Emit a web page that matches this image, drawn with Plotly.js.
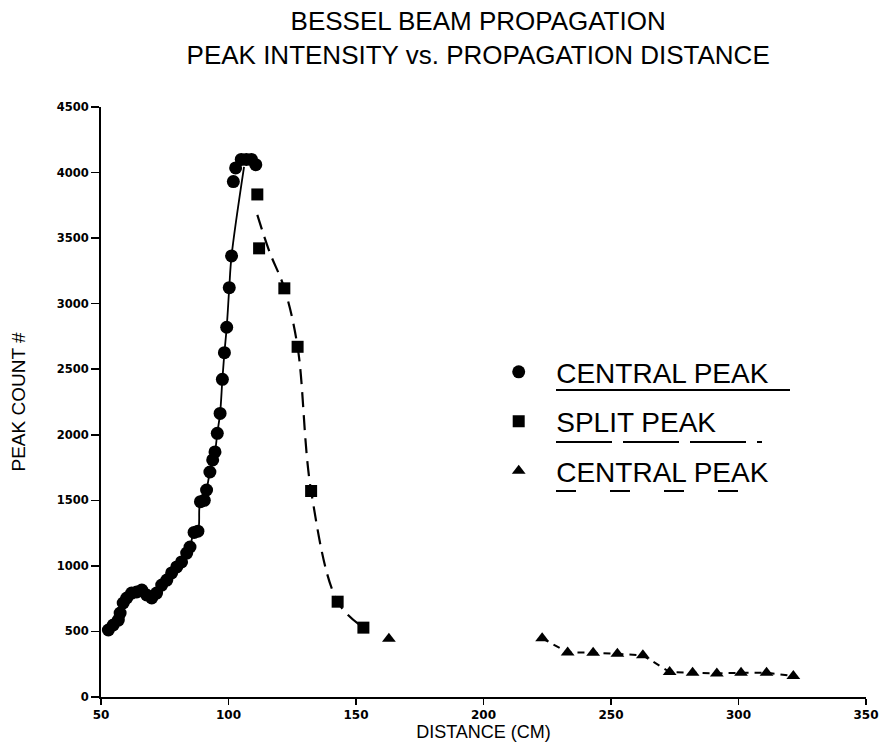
<!DOCTYPE html>
<html>
<head>
<meta charset="utf-8">
<script src="https://cdn.plot.ly/plotly-3.0.1.min.js"></script>
<style>html,body{margin:0;padding:0;background:#fff;}#chart{width:883px;height:746px;}</style>
</head>
<body>
<div id="chart"></div>
<script>
// Central peak (circles)
const centralX = [52.9, 54.8, 56.8, 57.5, 58.7, 60.1, 62.0, 64.0, 66.0, 67.9, 69.9, 71.8, 73.8, 75.8, 77.7, 79.7, 81.6, 83.6, 84.9, 86.5, 88.0, 89.0, 90.5, 91.4, 92.7, 93.8, 94.7, 95.6, 96.7, 97.6, 98.4, 99.3, 100.3, 101.2, 101.9, 102.8, 105.0, 107.0, 109.0, 110.7];
const centralY = [511, 549, 587, 640, 717, 755, 793, 801, 816, 778, 755, 793, 854, 892, 946, 992, 1030, 1098, 1144, 1255, 1265, 1490, 1500, 1579, 1716, 1808, 1869, 2011, 2163, 2423, 2626, 2820, 3122, 3364, 3931, 4035, 4100, 4100, 4100, 4060];
// end point of the solid fitted curve
const centralLineEndX = [106.1];
const centralLineEndY = [4043];

// Split peak (squares)
const splitX = [111.3, 112.0, 121.9, 127.1, 132.4, 142.8, 152.9];
const splitY = [3833, 3422, 3117, 2671, 1571, 727, 529];
// start of the dashed fitted curve
const splitLineStartX = [111.3, 116.0];
const splitLineStartY = [3677, 3400];

// Central peak (triangles), far field
const farX = [162.9, 223.0, 233.0, 243.0, 252.5, 262.5, 273.0, 282.0, 291.5, 301.0, 311.0, 321.5];
const farY = [445, 448, 340, 338, 330, 318, 190, 185, 180, 185, 185, 160];

const xTicks = [50, 100, 150, 200, 250, 300, 350];
const yTicks = [0, 500, 1000, 1500, 2000, 2500, 3000, 3500, 4000, 4500];

const FONT = '"Liberation Sans", Arial, sans-serif';
const TICKFONT = '"DejaVu Sans", sans-serif';

// solid fitted line: circles up to the last point on the curve, then the curve end
const solidIdx = centralY.findIndex(v => v > 3400);
const solidX = centralX.slice(0, solidIdx).concat(centralLineEndX);
const solidY = centralY.slice(0, solidIdx).concat(centralLineEndY);

const dashX = splitLineStartX.concat(splitX.slice(2));
const dashY = splitLineStartY.concat(splitY.slice(2));

const farLineX = farX.slice(1);
const farLineY = farY.slice(1);

const traces = [
  {x: solidX, y: solidY, mode: 'lines', line: {color: '#000', width: 1.8, shape: 'spline'}, showlegend: false, hoverinfo: 'skip'},
  {x: dashX, y: dashY, mode: 'lines', line: {color: '#000', width: 2.2, shape: 'spline', dash: '15px,8px'}, showlegend: false, hoverinfo: 'skip'},
  {x: farLineX, y: farLineY, mode: 'lines', line: {color: '#000', width: 2, dash: '7px,6px'}, showlegend: false, hoverinfo: 'skip'},
  {x: centralX, y: centralY, mode: 'markers', name: 'CENTRAL PEAK', legendgroup: 'a',
   marker: {symbol: 'circle', size: 13, color: '#000'}},
  {x: splitX, y: splitY, mode: 'markers', name: 'SPLIT PEAK', legendgroup: 'b',
   marker: {symbol: 'square', size: 12, color: '#000'}},
  {x: farX, y: farY, mode: 'markers', name: 'CENTRAL PEAK', legendgroup: 'c',
   marker: {symbol: 'triangle-up', size: 12, color: '#000'}}
];

// helpers to convert picture pixels into paper fractions for the legend underlines
const L = 101, R = 866, T = 107, B = 697;
const px = v => (v - L) / (R - L);
const py = v => (B - v) / (B - T);
const underline = (x0, x1, y, dash) => ({
  type: 'line', xref: 'paper', yref: 'paper', x0: px(x0), x1: px(x1), y0: py(y), y1: py(y),
  line: {color: '#000', width: 2, dash: dash}
});

const layout = {
  width: 883, height: 746,
  margin: {l: 101, r: 17, t: 107, b: 49},
  paper_bgcolor: '#fff', plot_bgcolor: '#fff',
  font: {family: FONT, color: '#000'},
  title: {
    text: 'BESSEL BEAM PROPAGATION<br>PEAK INTENSITY vs. PROPAGATION DISTANCE',
    font: {family: FONT, size: 26, color: '#000'},
    x: 0.493, xanchor: 'center', xref: 'paper',
    y: 0.960, yanchor: 'top', yref: 'container'
  },
  xaxis: {
    range: [50, 350], tickvals: xTicks, ticktext: xTicks.map(String),
    showgrid: false, zeroline: false, showline: true, linecolor: '#000', linewidth: 2,
    ticks: 'outside', ticklen: 6, tickwidth: 1.5, tickcolor: '#000',
    tickfont: {family: TICKFONT, size: 12, weight: 'bold', color: '#000'},
    title: {text: 'DISTANCE (CM)', font: {family: FONT, size: 18, color: '#000'}, standoff: 4}
  },
  yaxis: {
    range: [0, 4500], tickvals: yTicks, ticktext: yTicks.map(String),
    showgrid: false, zeroline: false, showline: true, linecolor: '#000', linewidth: 2,
    ticks: 'outside', ticklen: 8, tickwidth: 1.5, tickcolor: '#000',
    tickfont: {family: TICKFONT, size: 11.5, weight: 'bold', color: '#000'},
    title: {text: 'PEAK COUNT #', font: {family: FONT, size: 19, color: '#000'}, standoff: 26}
  },
  legend: {
    x: 0.497, y: 0.593, xanchor: 'left', yanchor: 'top',
    bgcolor: 'rgba(0,0,0,0)', borderwidth: 0,
    font: {family: FONT, size: 28, color: '#000'},
    traceorder: 'grouped', tracegroupgap: 10, itemsizing: 'trace', itemwidth: 65
  },
  shapes: [
    underline(556, 790, 390, 'solid'),
    underline(556, 762, 442, '56px,11px'),
    underline(556, 740, 491, '20px,34px')
  ],
  showlegend: true
};

Plotly.newPlot('chart', traces, layout, {displayModeBar: false, staticPlot: true});
</script>
</body>
</html>
